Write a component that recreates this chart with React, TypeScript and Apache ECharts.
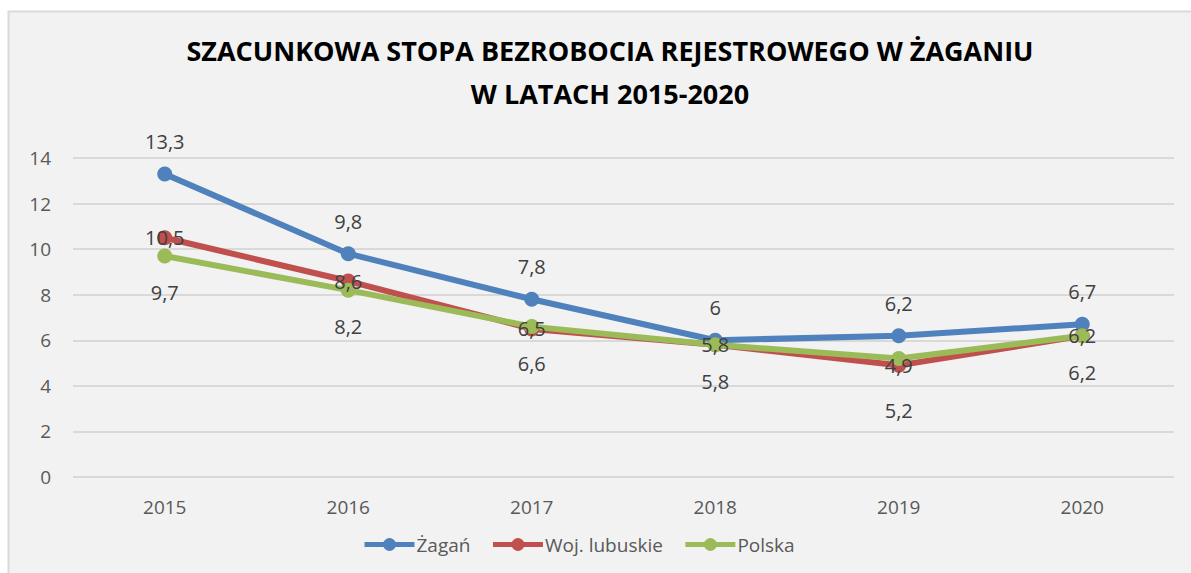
import React, { useEffect, useRef } from "react";
import * as echarts from "echarts";

const years = ["2015", "2016", "2017", "2018", "2019", "2020"];
const zagan = [13.3, 9.8, 7.8, 6, 6.2, 6.7];
const lubuskie = [10.5, 8.6, 6.5, 5.8, 4.9, 6.2];
const polska = [9.7, 8.2, 6.6, 5.8, 5.2, 6.2];
const titleLines = ["SZACUNKOWA STOPA BEZROBOCIA REJESTROWEGO W ŻAGANIU", "W LATACH 2015-2020"];

const FONT = "'Open Sans', 'Noto Sans', sans-serif";
const fmt = (p: any) => String(p.value).replace(".", ",");

export default function App() {
  const ref = useRef<HTMLDivElement>(null);
  useEffect(() => {
    if (!ref.current) return;
    const chart = echarts.init(ref.current, null, { renderer: "svg" });
    const mk = (
      name: string,
      data: number[],
      color: string,
      pos: string,
      dist: number,
      extra: Record<number, number> = {}
    ) => ({
      name,
      type: "line",
      data: data.map((v, i) =>
        extra[i] !== undefined ? { value: v, label: { distance: extra[i] } } : v
      ),
      symbol: "circle",
      symbolSize: 15,
      lineStyle: { width: 6, color },
      itemStyle: { color },
      label: {
        show: true,
        position: pos,
        distance: dist,
        formatter: fmt,
        fontFamily: FONT,
        fontSize: 20,
        color: "#404040",
      },
    });
    chart.setOption({
      animation: false,
      backgroundColor: "#ffffff",
      graphic: [
        {
          type: "rect",
          shape: { x: 8.5, y: 11.5, width: 1200, height: 600 },
          style: { fill: "#f2f2f2", stroke: "#d9d9d9", lineWidth: 2 },
          z: -10,
          silent: true,
        },
      ],
      title: {
        text: titleLines.join("\n"),
        left: 605,
        textAlign: "center",
        top: 24,
        textStyle: {
          fontFamily: FONT,
          fontWeight: "bold",
          fontSize: 27,
          lineHeight: 43,
          color: "#000000",
        },
      },
      grid: { left: 73, right: 17, top: 158, bottom: 96, containLabel: false },
      xAxis: {
        type: "category",
        data: years,
        boundaryGap: true,
        axisLine: { show: false },
        axisTick: { show: false },
        axisLabel: { fontFamily: FONT, fontSize: 19, color: "#595959", margin: 20 },
      },
      yAxis: {
        type: "value",
        min: 0,
        max: 14,
        interval: 2,
        axisLine: { show: false },
        axisTick: { show: false },
        splitLine: { lineStyle: { color: "#d9d9d9", width: 2 } },
        axisLabel: { fontFamily: FONT, fontSize: 19, color: "#595959", margin: 22 },
      },
      legend: {
        bottom: 14,
        left: 357,
        itemWidth: 50,
        itemHeight: 16,
        itemGap: 20,
        lineStyle: { width: 5 },
        textStyle: { fontFamily: FONT, fontSize: 19, color: "#595959", padding: [0, 0, 0, -3] },
        data: ["Żagań", "Woj. lubuskie", "Polska"],
      },
      series: [
        mk("Żagań", zagan, "#4f81bd", "top", 15),
        mk("Woj. lubuskie", lubuskie, "#c0504d", "inside", 0),
        mk("Polska", polska, "#9bbb59", "bottom", 19, { 4: 34 }),
      ],
    });
    return () => chart.dispose();
  }, []);
  return <div ref={ref} style={{ position: "fixed", left: 0, top: 0, width: 1191, height: 573 }} />;
}
